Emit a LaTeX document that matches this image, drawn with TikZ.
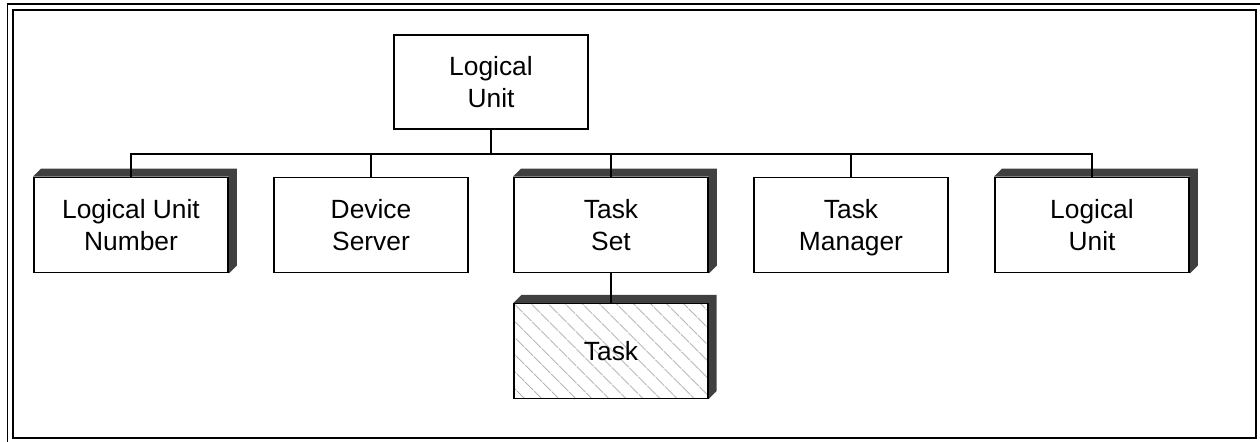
\documentclass[tikz,border=0pt]{standalone}
\usepackage{fontspec}
\setmainfont{Liberation Sans}
\usetikzlibrary{calc,backgrounds,patterns.meta}
\definecolor{shadegray}{HTML}{404040}
\newcommand{\extrude}[1]{%
  \fill[shadegray] (#1.north west) -- ++(0.16,0.16) -| ($(#1.south east)+(0.16,0.16)$)
    -- (#1.south east) -- (#1.north east) -- cycle;}
\begin{document}
\begin{tikzpicture}[
    unit/.style={draw,line width=1.1pt,minimum width=3.88cm,minimum height=1.9cm,
      align=center,font=\fontsize{15}{18}\selectfont,inner sep=0pt,text depth=0pt},
    hatched/.style={pattern={Lines[angle=-45,distance=7.4pt,line width=0.6pt]},pattern color=black!35},
    link/.style={line width=1.1pt}]
  \useasboundingbox (0,0) rectangle (25.2,8.84);
  \draw[line width=1.1pt] (0.15,0) -- (0.15,8.76) -- (25.2,8.76);
  \draw[line width=1.1pt] (0.26,0.08) rectangle (25.12,8.64);

  \node[unit,minimum height=1.88cm] (top) at (9.82,7.2) {Logical\\Unit};
  \node[unit] (lun) at (2.62,4.34) {Logical Unit\\Number};
  \node[unit] (ds) at (7.42,4.34) {Device\\Server};
  \node[unit] (ts) at (12.22,4.34) {Task\\Set};
  \node[unit] (tm) at (17.02,4.34) {Task\\Manager};
  \node[unit] (lu) at (21.84,4.34) {Logical\\Unit};
  \node[unit,hatched] (task) at (12.22,1.82) {Task};
  \coordinate (bus) at (9.82,5.76);

  \begin{scope}[on background layer]
    \extrude{lun}
    \extrude{ts}
    \extrude{lu}
    \extrude{task}
  \end{scope}

  \draw[link] (top.south) -- (bus);
  \draw[link] (lun.north) -- (lun|-bus) -- (lu|-bus) -- (lu.north);
  \draw[link] (ds.north) -- (ds|-bus);
  \draw[link] (ts.north) -- (ts|-bus);
  \draw[link] (tm.north) -- (tm|-bus);
  \draw[link] (ts.south) -- (task.north);
\end{tikzpicture}
\end{document}
